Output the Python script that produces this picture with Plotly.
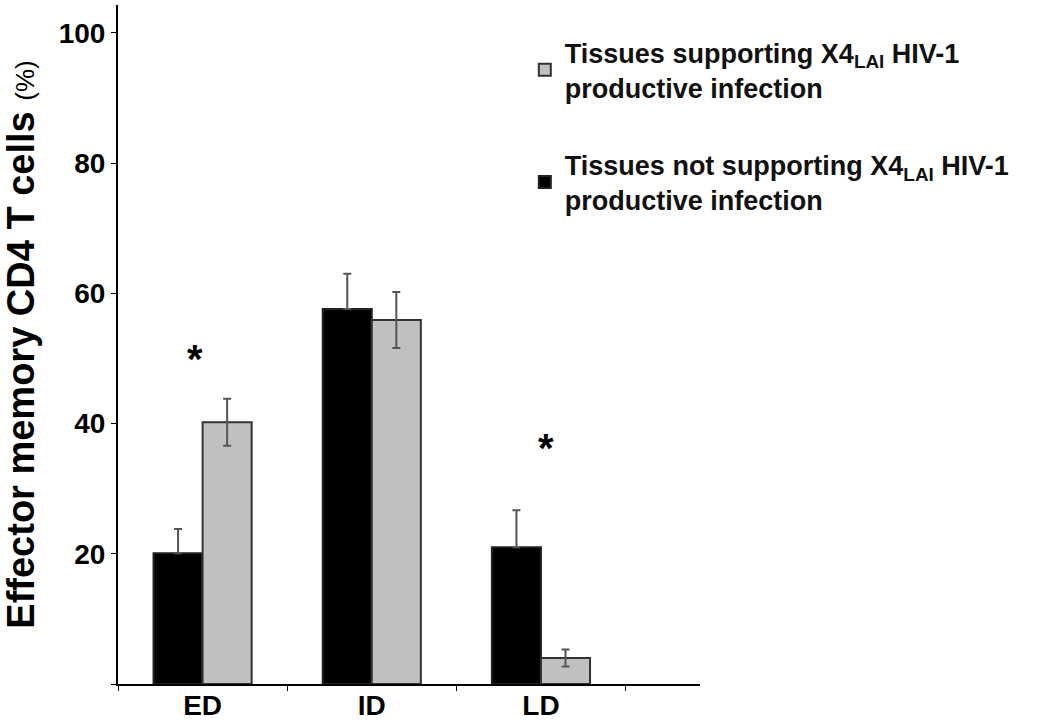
import plotly.graph_objects as go

categories = ["ED", "ID", "LD"]
not_supporting = [20.1, 57.6, 21.0]
not_supporting_err = [3.7, 5.4, 5.7]
supporting = [40.2, 55.9, 4.0]
supporting_err = [3.6, 4.3, 1.3]
star_categories = ["ED", "LD"]
star_y = [50, 36.3]
star_shift = [-8, 5]
ytick_vals = [0, 20, 40, 60, 80, 100]
ytick_text = ["", "20", "40", "60", "80", "100"]

FONT = "Liberation Sans, Arial, sans-serif"

fig = go.Figure()
fig.add_trace(go.Bar(
    x=categories, y=not_supporting,
    name="<b>Tissues not supporting X4<sub>LAI</sub> HIV-1<br>productive infection</b>",
    marker=dict(color="#000000", line=dict(color="#222222", width=2)),
    error_y=dict(type="data", array=not_supporting_err, arrayminus=[0, 0, 0],
                 color="#555555", thickness=2, width=4),
    legendgroup="b", legendrank=2,
))
fig.add_trace(go.Bar(
    x=categories, y=supporting,
    name="<b>Tissues supporting X4<sub>LAI</sub> HIV-1<br>productive infection</b>",
    marker=dict(color="#c0c0c0", line=dict(color="#333333", width=2)),
    error_y=dict(type="data", array=supporting_err,
                 color="#555555", thickness=2, width=4),
    legendgroup="a", legendrank=1,
))

for c, yv, s in zip(star_categories, star_y, star_shift):
    fig.add_annotation(x=c, y=yv, text="<b>*</b>", showarrow=False, xshift=s,
                       font=dict(size=40, color="black", family=FONT),
                       yanchor="middle")

fig.update_layout(
    width=1050, height=724,
    margin=dict(l=118, r=350, t=5, b=40, autoexpand=False),
    paper_bgcolor="white", plot_bgcolor="white",
    barmode="group", bargap=0.42, bargroupgap=0,
    font=dict(family=FONT, color="black"),
    showlegend=True,
    legend=dict(x=0.699, y=0.966, xanchor="left", yanchor="top",
                traceorder="grouped", tracegroupgap=39,
                font=dict(size=27, family=FONT, color="#111111"),
                bgcolor="rgba(0,0,0,0)"),
    xaxis=dict(range=[-0.5, 2.94], showline=True, linecolor="black", linewidth=2,
               ticks="outside", tickson="boundaries", ticklen=5, tickwidth=1,
               tickcolor="black", tickfont=dict(size=28, family=FONT),
               tickprefix="<b>", ticksuffix="</b>", showgrid=False, zeroline=False,
               automargin=False, ticklabelstandoff=-5),
    yaxis=dict(range=[0, 104.3], showline=True, linecolor="black", linewidth=2,
               tickvals=ytick_vals, ticktext=[f"<b>{t}</b>" if t else "" for t in ytick_text],
               ticks="outside", ticklen=5, tickwidth=1, tickcolor="black",
               tickfont=dict(size=28, family=FONT), showgrid=False, zeroline=False,
               automargin=False,
               title=dict(text="<b>Effector memory CD4 T cells</b> <span style='font-size:26px'>(%)</span>",
                          font=dict(size=38, family=FONT), standoff=14)),
)

fig.write_html("out.html", config={"displayModeBar": False},
               post_script="document.body.style.margin='0';document.body.style.overflow='hidden';")
